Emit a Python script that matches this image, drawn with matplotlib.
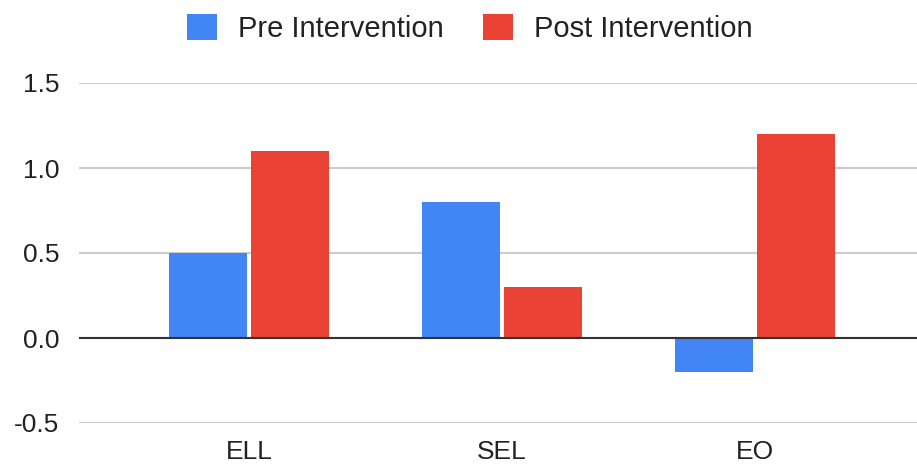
import matplotlib.pyplot as plt
import numpy as np

categories = ["ELL", "SEL", "EO"]
pre = [0.5, 0.8, -0.2]
post = [1.1, 0.3, 1.2]
series_names = ["Pre Intervention", "Post Intervention"]
yticks = [-0.5, 0.0, 0.5, 1.0, 1.5]

plt.rcParams["font.family"] = ["Liberation Sans", "DejaVu Sans"]

fig = plt.figure(figsize=(9.17, 4.70), dpi=100)
ax = fig.add_axes([79 / 917, 1 - 423 / 470, 1 - 79 / 917, 340 / 470])

x = np.arange(len(categories))
width = 0.305
ax.bar(x - 0.162, pre, width, color="#4285F4", label=series_names[0], zorder=3)
ax.bar(x + 0.162, post, width, color="#EA4335", label=series_names[1], zorder=3)

ax.set_xlim(-0.672, 2.64)
ax.set_ylim(-0.5, 1.5)
ax.set_yticks(yticks)
ax.set_yticklabels([f"{v:.1f}" for v in yticks])
ax.set_xticks(x)
ax.set_xticklabels(categories)

ax.grid(axis="y", color="#CCCCCC", linewidth=1.5, zorder=0)
ax.axhline(0, color="#333333", linewidth=1.5, zorder=4)
for s in ax.spines.values():
    s.set_visible(False)
ax.tick_params(axis="both", length=0, labelsize=19, colors="#222222")
ax.tick_params(axis="y", pad=14)
ax.tick_params(axis="x", pad=12)

fig.legend(loc="center", bbox_to_anchor=(0.512, 0.94), ncol=2, frameon=False,
           fontsize=21, handlelength=1.03, handleheight=1.0, columnspacing=1.34,
           handletextpad=0.72, labelcolor="#222222")

fig.savefig("out.png", dpi=100)
